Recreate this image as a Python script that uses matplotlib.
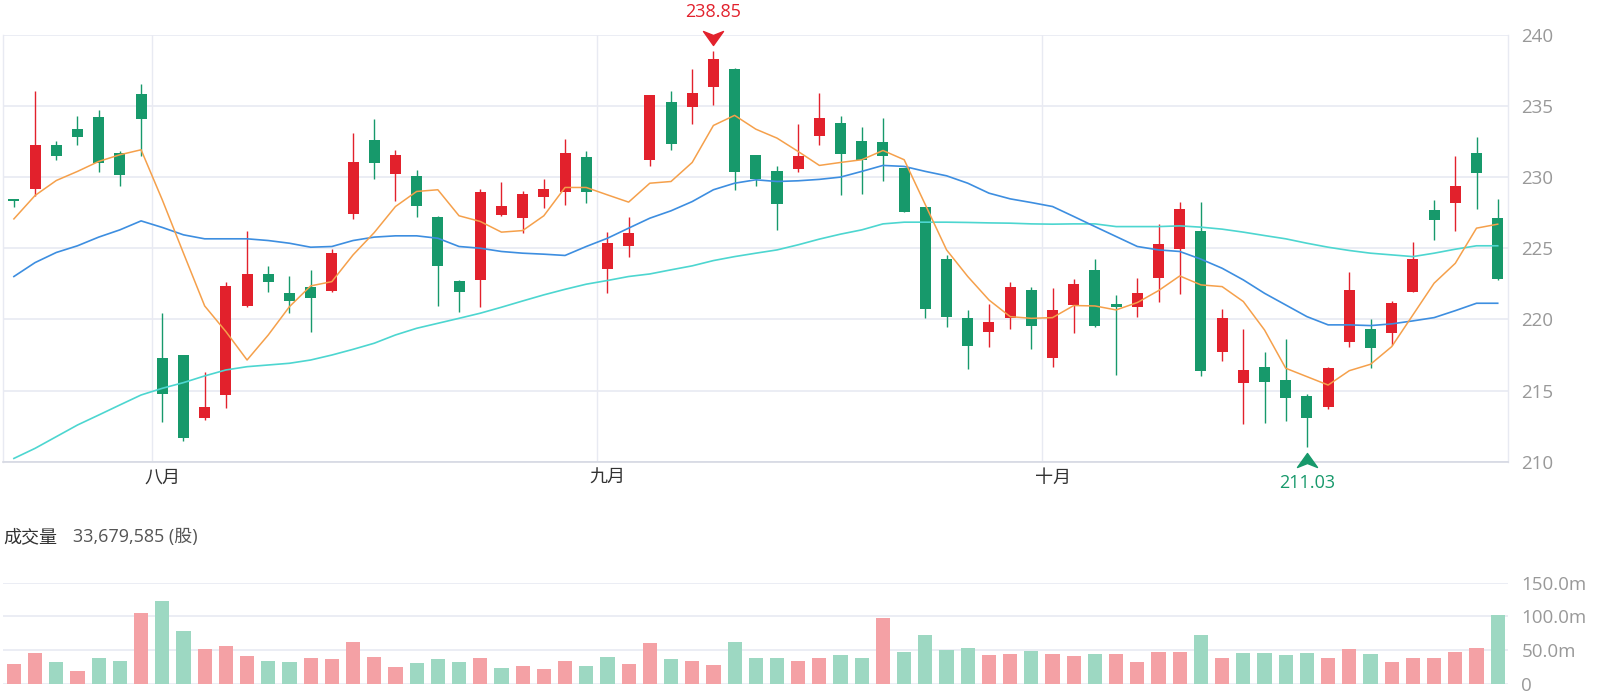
import matplotlib
matplotlib.use("Agg")
import matplotlib.pyplot as plt
from matplotlib.path import Path
from matplotlib.transforms import offset_copy

plt.rcParams['font.family'] = ['Open Sans', 'Noto Sans CJK SC', 'DejaVu Sans']

# ---------------- data ----------------
opens = [228.45, 229.16, 232.26, 233.41, 234.21, 231.70, 235.87, 217.27, 217.50, 213.05,
         214.69, 220.98, 223.18, 221.84, 222.31, 222.03, 227.40, 232.63, 230.24, 230.12,
         227.19, 222.71, 222.78, 227.36, 227.12, 228.58, 228.95, 231.39, 223.53, 225.20,
         231.18, 235.26, 234.93, 236.32, 237.61, 231.58, 230.41, 230.59, 232.92, 233.81,
         232.52, 232.45, 230.64, 227.90, 224.24, 220.13, 219.10, 220.08, 222.08, 217.32,
         221.02, 223.49, 221.09, 220.86, 222.94, 224.96, 226.25, 217.69, 215.56, 216.68,
         215.74, 214.62, 213.87, 218.44, 219.33, 219.03, 221.96, 227.71, 228.22, 231.70, 227.12]
closes = [228.30, 232.28, 231.46, 232.82, 230.99, 230.17, 234.09, 214.76, 211.64, 213.82,
          222.38, 223.18, 222.66, 221.30, 221.49, 224.66, 231.04, 230.99, 231.58, 228.01,
          223.79, 221.91, 228.93, 227.99, 228.81, 229.16, 231.70, 228.95, 225.41, 226.07,
          235.75, 232.33, 235.92, 238.31, 230.34, 229.89, 228.13, 231.51, 234.16, 231.60,
          231.23, 231.51, 227.59, 220.72, 220.20, 218.16, 219.85, 222.27, 219.57, 220.67,
          222.50, 219.54, 220.90, 221.84, 225.29, 227.80, 216.38, 220.13, 216.45, 215.58,
          214.45, 213.05, 216.57, 222.08, 217.97, 221.14, 224.26, 226.96, 229.35, 230.29, 222.83]
highs = [228.50, 236.04, 232.52, 234.28, 234.75, 231.81, 236.55, 220.48, 217.50, 216.33,
         222.66, 226.25, 223.79, 223.06, 223.49, 224.94, 233.10, 234.11, 231.93, 230.52,
         227.30, 222.78, 229.16, 229.63, 229.00, 229.87, 232.70, 231.81, 226.18, 227.19,
         235.75, 236.04, 237.61, 238.85, 237.68, 231.58, 230.80, 233.74, 235.92, 234.32,
         233.50, 234.16, 230.64, 227.90, 224.54, 220.67, 221.09, 222.62, 222.31, 222.20,
         222.83, 224.24, 221.73, 222.94, 226.72, 228.24, 228.24, 220.72, 219.31, 217.74,
         218.61, 214.76, 216.64, 223.37, 220.00, 221.30, 225.48, 228.41, 231.51, 232.82, 228.46]
lows = [227.90, 228.65, 231.18, 232.28, 230.34, 229.35, 231.46, 212.81, 211.48, 212.93,
        213.80, 220.86, 221.91, 220.44, 219.10, 221.96, 227.05, 229.87, 228.34, 227.19,
        220.95, 220.51, 220.86, 227.30, 226.07, 227.87, 228.06, 228.22, 221.89, 224.38,
        230.80, 231.93, 233.76, 235.10, 229.12, 229.35, 226.30, 230.36, 232.24, 228.76,
        228.83, 229.77, 227.54, 220.13, 219.50, 216.52, 218.04, 219.33, 217.93, 216.68,
        219.03, 219.45, 216.10, 220.20, 221.26, 221.80, 216.05, 217.11, 212.65, 212.74,
        212.86, 211.03, 213.68, 218.09, 216.57, 218.21, 221.96, 225.60, 226.25, 227.78, 222.78]

ma5 = [227.07, 228.72, 229.77, 230.41, 231.11, 231.58, 231.93, 228.41, 224.66, 220.95,
       219.15, 217.15, 218.91, 220.90, 222.36, 222.66, 224.54, 226.11, 227.94, 229.00,
       229.12, 227.29, 226.89, 226.14, 226.25, 227.29, 229.28, 229.28, 228.76, 228.25,
       229.58, 229.70, 231.04, 233.64, 234.35, 233.38, 232.75, 231.81, 230.83, 231.04,
       231.23, 231.88, 231.23, 228.06, 224.89, 223.02, 221.37, 220.20, 220.08, 220.13,
       220.98, 220.95, 220.67, 221.19, 222.03, 223.06, 222.43, 222.31, 221.26, 219.26,
       216.57, 215.98, 215.39, 216.40, 216.85, 218.09, 220.32, 222.55, 223.95, 226.42, 226.70]
ma20 = [223.02, 224.00, 224.71, 225.18, 225.79, 226.30, 226.93, 226.47, 225.95, 225.67,
        225.67, 225.67, 225.55, 225.36, 225.08, 225.13, 225.55, 225.79, 225.88, 225.88,
        225.71, 225.13, 225.01, 224.78, 224.66, 224.59, 224.50, 225.13, 225.71, 226.42,
        227.12, 227.64, 228.29, 229.12, 229.58, 229.82, 229.70, 229.75, 229.85, 230.01,
        230.41, 230.83, 230.76, 230.41, 230.10, 229.58, 228.88, 228.48, 228.22, 227.94,
        227.24, 226.53, 225.83, 225.13, 224.89, 224.78, 224.24, 223.60, 222.78, 221.84,
        221.02, 220.20, 219.62, 219.62, 219.57, 219.69, 219.90, 220.13, 220.62, 221.14, 221.14]
ma60 = [210.23, 210.94, 211.76, 212.58, 213.28, 213.99, 214.69, 215.16, 215.56, 216.03,
        216.45, 216.68, 216.80, 216.92, 217.15, 217.50, 217.90, 218.33, 218.91, 219.38,
        219.73, 220.08, 220.44, 220.86, 221.30, 221.73, 222.12, 222.48, 222.74, 223.02,
        223.20, 223.49, 223.77, 224.14, 224.42, 224.66, 224.89, 225.25, 225.65, 226.00,
        226.30, 226.72, 226.84, 226.84, 226.84, 226.82, 226.79, 226.77, 226.72, 226.70,
        226.72, 226.72, 226.53, 226.53, 226.53, 226.58, 226.49, 226.35, 226.14, 225.90,
        225.67, 225.36, 225.08, 224.85, 224.66, 224.54, 224.42, 224.66, 224.94, 225.18, 225.18]

volumes_m = [29.5, 45.9, 31.9, 19.3, 37.7, 33.8, 104.8, 123.2, 78.3, 51.2,
             55.6, 40.6, 33.3, 31.9, 37.7, 36.7, 61.8, 39.6, 25.1, 30.4,
             36.7, 32.4, 37.7, 22.7, 26.6, 21.7, 33.8, 26.6, 39.1, 29.5,
             59.9, 37.2, 34.3, 27.1, 61.8, 37.7, 38.6, 33.3, 37.7, 42.5,
             37.7, 98.1, 46.4, 71.5, 49.8, 52.2, 42.0, 44.4, 48.3, 44.4,
             41.5, 44.0, 44.0, 31.9, 46.9, 46.9, 72.5, 37.7, 45.4, 45.4,
             42.5, 45.9, 38.6, 50.7, 44.0, 31.9, 38.6, 38.6, 47.3, 52.2, 102.4]
vol_up = [1, 1, 0, 1, 0, 0, 1, 0, 0, 1, 1, 1, 0, 0, 1, 1, 1, 1, 1, 0,
          0, 0, 1, 0, 1, 1, 1, 0, 0, 1, 1, 0, 1, 1, 0, 0, 0, 1, 1, 0,
          0, 1, 0, 0, 0, 0, 1, 1, 0, 1, 1, 0, 1, 1, 1, 1, 0, 1, 0, 0,
          0, 0, 1, 1, 0, 1, 1, 1, 1, 1, 0]

month_pos = [7, 28, 49]
month_labels = ['八月', '九月', '十月']
price_ticks = [210, 215, 220, 225, 230, 235, 240]
vol_ticks = [0, 50, 100, 150]
vol_tick_labels = ['0', '50.0m', '100.0m', '150.0m']
hi_label = '238.85'
lo_label = '211.03'
vol_title = '成交量'
vol_value = '33,679,585 (股)'

# ---------------- style ----------------
RED = '#E2212C'
GREEN = '#17996B'
PINK = '#F4A1A5'
MINT = '#9DD8C2'
GRID = '#E8EAF2'
W, H = 1599, 698

fig = plt.figure(figsize=(W / 100, H / 100), dpi=100)
fig.patch.set_facecolor('white')

left_px, right_px = 3.3, 1508.3
top_px, bot_px = 35.0, 461.7
ax = fig.add_axes([left_px / W, 1 - bot_px / H, (right_px - left_px) / W, (bot_px - top_px) / H])

n = len(opens)
xs = list(range(n))

# wicks
for i in xs:
    col = RED if closes[i] >= opens[i] else GREEN
    ax.vlines(i, lows[i], highs[i], color=col, lw=1.0, zorder=3)
# bodies
bott = [min(o, c) for o, c in zip(opens, closes)]
hts = [max(abs(c - o), 0.08) for o, c in zip(opens, closes)]
cols = [RED if c >= o else GREEN for o, c in zip(opens, closes)]
ax.bar(xs, hts, bottom=bott, width=0.52, color=cols, linewidth=0, zorder=4)

# moving averages
ax.plot(xs, ma60, color='#4DD6D0', lw=1.2, zorder=5)
ax.plot(xs, ma20, color='#3D8EE0', lw=1.2, zorder=5)
ax.plot(xs, ma5, color='#F5A04B', lw=1.1, zorder=6)

ax.set_xlim(-0.5, n - 0.5)
ax.set_ylim(210, 240)
ax.set_yticks(price_ticks)
ax.yaxis.tick_right()
ax.tick_params(axis='y', length=0, pad=9.5, labelsize=13.5, labelcolor='#999999')
ax.set_xticks(month_pos)
ax.set_xticklabels(month_labels, fontfamily=['Noto Sans CJK SC'])
ax.tick_params(axis='x', length=0, pad=5, labelsize=13, labelcolor='#333333')
ax.grid(axis='y', color=GRID, lw=1.2, zorder=0)
for b in month_pos:
    ax.axvline(b - 0.5, color=GRID, lw=1.0, zorder=0)
ax.spines['top'].set_visible(False)
for s in ('left', 'right'):
    ax.spines[s].set_color(GRID)
    ax.spines[s].set_linewidth(1.0)
ax.spines['bottom'].set_color('#D5D8E2')
ax.spines['bottom'].set_linewidth(1.2)
ax.set_axisbelow(True)

# high / low markers
down_arrow = Path([(-1, 0.7), (0, -0.7), (1, 0.7), (0, 0.3), (-1, 0.7)],
                  [Path.MOVETO, Path.LINETO, Path.LINETO, Path.LINETO, Path.CLOSEPOLY])
up_arrow = Path([(-1, -0.7), (0, 0.7), (1, -0.7), (0, -0.3), (-1, -0.7)],
                [Path.MOVETO, Path.LINETO, Path.LINETO, Path.LINETO, Path.CLOSEPOLY])
i_hi = highs.index(max(highs))
i_lo = lows.index(min(lows))
ax.plot([i_hi], [highs[i_hi]], marker=down_arrow, ms=14.4, color=RED, ls='none',
        transform=offset_copy(ax.transData, fig=fig, y=9.8, units='points'), clip_on=False, zorder=7)
ax.plot([i_lo], [lows[i_lo]], marker=up_arrow, ms=14.4, color=GREEN, ls='none',
        transform=offset_copy(ax.transData, fig=fig, y=-9.2, units='points'), clip_on=False, zorder=7)
ax.annotate(hi_label, (i_hi, highs[i_hi]), xytext=(0, 28.5), textcoords='offset points',
            ha='center', va='center', color=RED, fontsize=13, annotation_clip=False)
ax.annotate(lo_label, (i_lo, lows[i_lo]), xytext=(0, -25.7), textcoords='offset points',
            ha='center', va='center', color=GREEN, fontsize=13, annotation_clip=False)

# ---------------- volume panel ----------------
vtop_px, vbot_px = 582.5, 683.7
axv = fig.add_axes([left_px / W, 1 - vbot_px / H, (right_px - left_px) / W, (vbot_px - vtop_px) / H])
vcols = [PINK if u else MINT for u in vol_up]
axv.bar(xs, volumes_m, width=0.67, color=vcols, linewidth=0, zorder=3)
axv.set_xlim(-0.5, n - 0.5)
axv.set_ylim(0, 150)
axv.set_yticks(vol_ticks)
axv.set_yticklabels(vol_tick_labels)
axv.yaxis.tick_right()
axv.tick_params(axis='y', length=0, pad=9.5, labelsize=13.5, labelcolor='#999999')
axv.set_xticks([])
axv.grid(axis='y', color=GRID, lw=1.2, zorder=0)
for s in axv.spines.values():
    s.set_visible(False)
axv.set_axisbelow(True)

fig.text(left_px / W, 1 - 536.7 / H, vol_title, fontfamily=['Noto Sans CJK SC'],
         fontsize=13, color='#333333', va='center', ha='left')
fig.text(73 / W, 1 - 536.7 / H, vol_value, fontfamily=['Open Sans', 'Noto Sans CJK SC'],
         fontsize=13, color='#555555', va='center', ha='left')

fig.savefig('out.png', dpi=100, facecolor='white')
